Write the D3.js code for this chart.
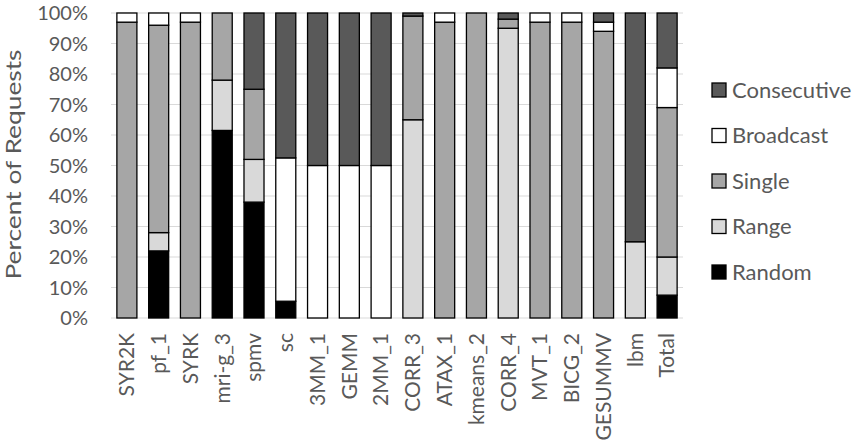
<!DOCTYPE html>
<html lang="en">
<head>
    <meta charset="UTF-8">
    <title>Percent of Requests</title>
    <style>
        body { margin: 0; background: #fff; }
        .tick-label { font: 20px Lato, sans-serif; fill: #595959; }
        .x-label { font: 21px Lato, sans-serif; fill: #595959; }
        .axis-label { font: 21px Lato, sans-serif; fill: #595959; }
        .legend-label { font: 22px Lato, sans-serif; fill: #595959; }
    </style>
</head>
<body>
    <div id="chart"></div>
    <script src="https://d3js.org/d3.v7.min.js"></script>
    <script>
        const benchmarks = ["SYR2K", "pf_1", "SYRK", "mri-g_3", "spmv", "sc", "3MM_1", "GEMM", "2MM_1",
            "CORR_3", "ATAX_1", "kmeans_2", "CORR_4", "MVT_1", "BICG_2", "GESUMMV", "lbm", "Total"];

        // stack order, bottom to top
        const types = ["Random", "Range", "Single", "Broadcast", "Consecutive"];

        const random      = [0, 22, 0, 61.5, 38, 5.5, 0, 0, 0, 0, 0, 0, 0, 0, 0, 0, 0, 7.5];
        const range       = [0, 6, 0, 16.5, 14, 0, 0, 0, 0, 65, 0, 0, 95, 0, 0, 0, 25, 12.5];
        const single      = [97, 68, 97, 22, 23, 0, 0, 0, 0, 34, 97, 100, 3, 97, 97, 94, 0, 49];
        const broadcast   = [3, 4, 3, 0, 0, 47, 50, 50, 50, 0, 3, 0, 0, 3, 3, 3, 0, 13];
        const consecutive = [0, 0, 0, 0, 25, 47.5, 50, 50, 50, 1, 0, 0, 2, 0, 0, 3, 75, 18];

        const yTicks = [0, 10, 20, 30, 40, 50, 60, 70, 80, 90, 100];

        const colors = {
            Random: "#000000",
            Range: "#d9d9d9",
            Single: "#a6a6a6",
            Broadcast: "#ffffff",
            Consecutive: "#595959"
        };

        const rows = benchmarks.map((b, i) => ({
            name: b,
            Random: random[i],
            Range: range[i],
            Single: single[i],
            Broadcast: broadcast[i],
            Consecutive: consecutive[i]
        }));

        const W = 855, H = 443;
        const margin = { top: 13, right: 172, bottom: 125, left: 111 };
        const width = W - margin.left - margin.right;
        const height = H - margin.top - margin.bottom;

        const svg = d3.select("#chart")
            .append("svg")
            .attr("width", W)
            .attr("height", H);

        const g = svg.append("g")
            .attr("transform", `translate(${margin.left},${margin.top})`);

        const x = d3.scaleBand()
            .domain(benchmarks)
            .range([0, width])
            .paddingInner(0.37)
            .paddingOuter(0.185);

        const y = d3.scaleLinear()
            .domain([0, 100])
            .range([height, 0]);

        // gridlines
        g.selectAll("line.grid")
            .data(yTicks)
            .enter()
            .append("line")
            .attr("class", "grid")
            .attr("x1", 0)
            .attr("x2", width)
            .attr("y1", d => y(d))
            .attr("y2", d => y(d))
            .attr("stroke", "#d9d9d9")
            .attr("stroke-width", 1);

        g.selectAll("text.tick-label")
            .data(yTicks)
            .enter()
            .append("text")
            .attr("class", "tick-label")
            .attr("x", -23)
            .attr("y", d => y(d))
            .attr("dy", "0.35em")
            .attr("text-anchor", "end")
            .text(d => d + "%");

        const stack = d3.stack().keys(types);
        const series = stack(rows);

        g.selectAll("g.layer")
            .data(series)
            .enter()
            .append("g")
            .attr("class", "layer")
            .attr("fill", d => colors[d.key])
            .selectAll("rect")
            .data(d => d.filter(s => s[1] - s[0] > 0))
            .enter()
            .append("rect")
            .attr("x", d => x(d.data.name))
            .attr("y", d => y(d[1]))
            .attr("width", x.bandwidth())
            .attr("height", d => y(d[0]) - y(d[1]))
            .attr("stroke", "#000")
            .attr("stroke-width", 1.3);

        // x labels, rotated
        g.selectAll("text.x-label")
            .data(benchmarks)
            .enter()
            .append("text")
            .attr("class", "x-label")
            .attr("text-anchor", "end")
            .attr("transform", d => `translate(${x(d) + x.bandwidth() / 2},${height + 15}) rotate(-90)`)
            .attr("dy", "0.35em")
            .text(d => d);

        // y axis title, baseline kept far enough from the left edge
        svg.append("text")
            .attr("class", "axis-label")
            .attr("text-anchor", "middle")
            .attr("transform", `translate(21,${margin.top + height / 2 - 1}) rotate(-90)`)
            .attr("textLength", 230)
            .attr("lengthAdjust", "spacingAndGlyphs")
            .text("Percent of Requests");

        // legend, top to bottom
        const legendItems = types.slice().reverse();
        const legend = svg.append("g")
            .attr("transform", "translate(712,90)");

        const li = legend.selectAll("g.item")
            .data(legendItems)
            .enter()
            .append("g")
            .attr("transform", (d, i) => `translate(0,${i * 45.5})`);

        li.append("rect")
            .attr("x", 0)
            .attr("y", -7)
            .attr("width", 14)
            .attr("height", 14)
            .attr("fill", d => colors[d])
            .attr("stroke", "#000")
            .attr("stroke-width", 1.3);

        li.append("text")
            .attr("class", "legend-label")
            .attr("x", 20)
            .attr("y", 0)
            .attr("dy", "0.35em")
            .text(d => d);
    </script>
</body>
</html>
